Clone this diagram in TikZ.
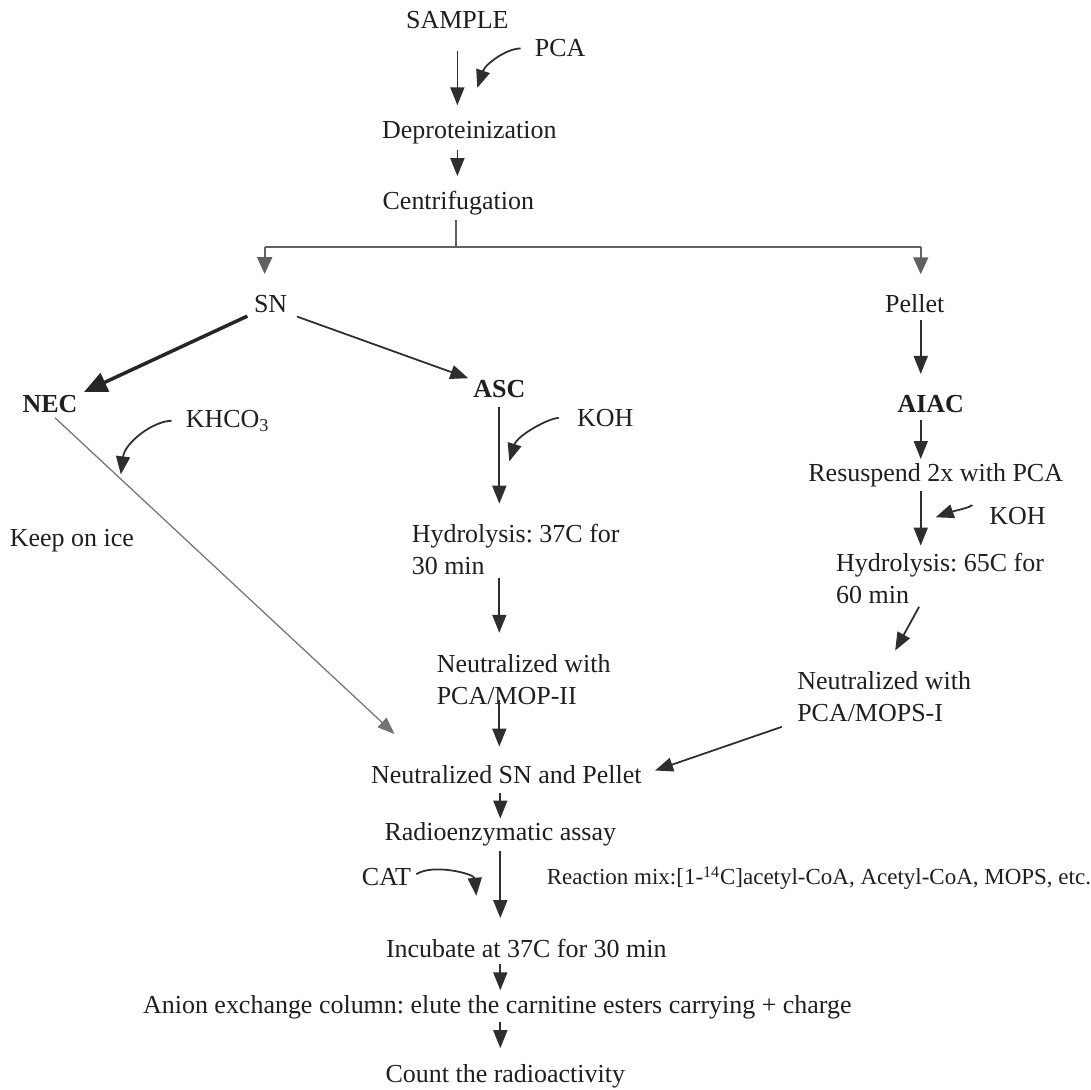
\documentclass[tikz,border=0pt]{standalone}
\usepackage{fontspec}
\setmainfont{Liberation Serif}
\usetikzlibrary{arrows.meta,calc}
\frenchspacing

\begin{document}
\begin{tikzpicture}[x=0.02cm,y=-0.02cm,
    txt/.style={inner sep=0pt,anchor=base,text=black!88,font=\fontsize{14.8}{18.2}\selectfont},
    txtl/.style={txt,anchor=base west,align=left},
    gras/.style={txt,font=\fontsize{14.8}{18.2}\selectfont\bfseries},
    fleche/.style={draw=black!82,line width=1pt,-{Triangle[length=0.36cm,width=0.28cm]}},
    grosse/.style={draw=black!85,line width=2pt,-{Triangle[length=0.46cm,width=0.4cm]}},
    fine/.style={draw=black!55,line width=0.7pt,-{Triangle[length=0.34cm,width=0.26cm]}},
    fourche/.style={draw=black!62,line width=1.2pt,-{Triangle[length=0.34cm,width=0.3cm]}}]

    % Fond
    \fill[white] (0,0) rectangle (1091,1091);

    % Haut
    \node[txt] (sample) at (458,29) {SAMPLE};
    \node[txt] (pca) at (561,57) {PCA};
    \node[txt] (depro) at (470,139) {Deproteinization};
    \node[txt] (centri) at (459,210) {Centrifugation};
    \coordinate (pcabout) at (478,88);

    \draw[fleche,shorten <=0.42cm,shorten >=0.32cm] (sample.south) -- (sample.south |- depro.north);
    \draw[fleche,shorten <=0.28cm] (pca.west) .. controls +(-28,0) and +(8,-24) .. (pcabout);
    \draw[fleche,shorten <=0.1cm,shorten >=0.3cm] (depro.south -| sample) -- (centri.north -| sample);

    % Fourche
    \coordinate (fork) at (457,247);
    \coordinate (forkg) at (265,247);
    \coordinate (forkd) at (922,247);
    \node[txt] (sn) at (271,313) {SN};
    \node[txt] (pellet) at (916,313) {Pellet};
    \draw[fourche,-,shorten <=0.08cm] (centri.south -| fork) -- (fork);
    \draw[fourche,-] (forkg) -- (forkd);
    \draw[fourche,shorten >=0.42cm] (forkg) -- (sn.north -| forkg);
    \draw[fourche,shorten >=0.4cm] (forkd) -- (pellet.north -| forkd);

    % Branche SN
    \node[gras] (nec) at (50,413) {NEC};
    \node[gras] (asc) at (500,398) {ASC};
    \node[txt] (khco) at (228,428) {KHCO\textsubscript{3}};
    \node[txt] (glace) at (72,547) {Keep on ice};
    \node[txt] (koha) at (606,427) {KOH};
    \node[txtl] (hydroa) at (412,575) {Hydrolysis: 37C for\\30 min};
    \node[txtl] (neuta) at (437,705) {Neutralized with\\PCA/MOP-II};
    \coordinate (khbout) at (121,475);
    \coordinate (kohaout) at (510,462);
    \coordinate (necbout) at (395,735);

    \draw[grosse,shorten <=0.14cm,shorten >=0.14cm] (sn.south west) -- (nec.north east);
    \draw[fleche,shorten <=0.2cm,shorten >=0.1cm] (sn.south east) -- (asc.north west);
    \draw[fine,shorten <=0.14cm] (nec.south) -- (necbout);
    \draw[fleche,shorten <=0.28cm] (khco.west) .. controls +(-32,0) and +(4,-32) .. (khbout);
    \draw[fleche,shorten <=0.18cm,shorten >=0.4cm] (asc.south) -- (asc.south |- hydroa.north);
    \draw[fleche,shorten <=0.36cm] (koha.west) .. controls +(-28,0) and +(8,-26) .. (kohaout);
    \draw[fleche,shorten <=0.06cm,shorten >=0.42cm] (hydroa.south -| asc) -- (neuta.north -| asc);

    % Branche Pellet
    \node[gras] (aiac) at (932,413) {AIAC};
    \node[txt] (resusp) at (937,482) {Resuspend 2x with PCA};
    \node[txt] (kohb) at (1019,525) {KOH};
    \node[txtl] (hydrob) at (837,604) {Hydrolysis: 65C for\\60 min};
    \node[txtl] (neutb) at (798,722) {Neutralized with\\PCA/MOPS-I};
    \coordinate (kohbout) at (937,518);

    \draw[fleche,shorten <=0.14cm,shorten >=0.42cm] (pellet.south -| forkd) -- (aiac.north -| forkd);
    \draw[fleche,shorten <=0.14cm,shorten >=0.08cm] (aiac.south -| forkd) -- (resusp.north -| forkd);
    \draw[fleche,shorten <=0.08cm,shorten >=0.14cm] (resusp.south -| forkd) -- (hydrob.north -| forkd);
    \draw[fleche,shorten <=0.38cm] (kohb.north west) .. controls +(-12,-1) and +(14,-5) .. (kohbout);
    \draw[fleche,shorten <=0.07cm,shorten >=0.46cm] (hydrob.south -| forkd) -- (neutb.north);

    % Bas
    \node[txt] (nsp) at (507,785) {Neutralized SN and Pellet};
    \node[txt] (radio) at (501,842) {Radioenzymatic assay};
    \node[txt] (cat) at (387,887) {CAT};
    \node[txt,font=\fontsize{13.1}{15}\selectfont] (mix) at (820,886) {Reaction mix:[1-\textsuperscript{14}C]acetyl-CoA, Acetyl-CoA, MOPS, etc.};
    \node[txt] (incub) at (527,959) {Incubate at 37C for 30 min};
    \node[txt] (anion) at (498,1015) {Anion exchange column: elute the carnitine esters carrying + charge};
    \node[txt] (count) at (506,1084) {Count the radioactivity};
    \coordinate (catbout) at (477,897);

    \draw[fleche,shorten <=-0.1cm,shorten >=0.38cm] (neuta.south -| asc) -- (nsp.north -| asc);
    \draw[fleche,shorten <=0.32cm,shorten >=0.28cm] (neutb.south west) -- (nsp.east);
    \draw[fleche,shorten <=0.16cm,shorten >=0.08cm] (nsp.south -| radio) -- (radio.north);
    \draw[fleche,shorten <=0.08cm,shorten >=0.42cm] (radio.south) -- (radio.south |- incub.north);
    \draw[fleche,shorten <=0.12cm] (cat.east) .. controls +(22,-14) and +(-2,-22) .. (catbout);
    \draw[fleche,shorten <=0.12cm,shorten >=0.1cm] (incub.south -| radio) -- (anion.north -| radio);
    \draw[fleche,shorten <=0.04cm,shorten >=0.32cm] (anion.south -| radio) -- (count.north -| radio);
\end{tikzpicture}
\end{document}
